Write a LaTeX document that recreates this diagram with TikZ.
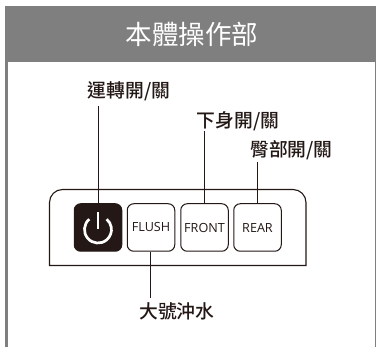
\documentclass[tikz,border=0pt]{standalone}
\usepackage{fontspec}
\setmainfont{Liberation Sans}
\newfontfamily\cjk{Noto Sans CJK TC}
\newfontfamily\cjkm{Noto Sans CJK TC Medium}
\newfontfamily\lat{Open Sans}
\definecolor{hdr}{HTML}{7F7F7F}
\definecolor{ink}{HTML}{231815}
\tikzset{
 x=1pt,y=-1pt,
 btn/.style={draw=ink,line width=1pt,rounded corners=6.5pt,minimum width=47.5pt,minimum height=47.5pt,inner sep=0pt,anchor=center,font=\lat\fontsize{12.6}{12.6}\selectfont,text=ink},
 lbl/.style={font=\cjkm\fontsize{18.8}{18.8}\selectfont,text=ink,inner sep=0pt,anchor=center},
 conn/.style={draw=ink,line width=0.9pt}
}
\begin{document}
\begin{tikzpicture}
\useasboundingbox (0,0) rectangle (376,347);
\fill[white] (0,0) rectangle (376,347);
% frame
\fill[hdr] (5,6) rectangle (376,62);
\draw[hdr,line width=2.6pt] (6.5,62) -- (6.5,347);
\draw[hdr,line width=0.8pt] (375.6,62) -- (375.6,347);
\node[font=\cjk\fontsize{26.5}{26.5}\selectfont,text=white,inner sep=0pt] (title) at (192,34) {本體操作部};
% panel
\draw[draw=ink,line width=1.1pt] (49.5,265.5) -- (49.5,202.5) arc[start angle=180,end angle=90,radius=13pt] -- (293,189.5) arc[start angle=90,end angle=0,radius=13pt] -- (306,265.5) -- cycle;
% buttons
\node[btn,fill=ink] (power) at (98,227.5) {};
\node[btn] (flush) at (151,227.5) {FLUSH};
\node[btn] (front) at (204.5,227.5) {FRONT};
\node[btn] (rear) at (257.5,227.5) {REAR};
\draw[white,line width=2.7pt] (89.3,219.2) arc[start angle=130,end angle=410,radius=13.5pt];
\draw[white,line width=2.7pt] (98,212) -- (98,229);
% labels
\node[lbl] (l1) at (129,91) {運轉開/關};
\node[lbl] (l2) at (238,121) {下身開/關};
\node[lbl] (l3) at (291.5,150) {臀部開/關};
\node[lbl] (l4) at (177,311) {大號沖水};
% connector ends
\coordinate (e1) at (98,106);
\coordinate (e2) at (204,131);
\coordinate (e3) at (257,162);
\coordinate (e4) at (150,298);
\draw[conn] (e1) -- (e1|-power.north);
\draw[conn] (e2) -- (e2|-front.north);
\draw[conn] (e3) -- (e3|-rear.north);
\draw[conn] (e4) -- (e4|-flush.south);
\end{tikzpicture}
\end{document}
